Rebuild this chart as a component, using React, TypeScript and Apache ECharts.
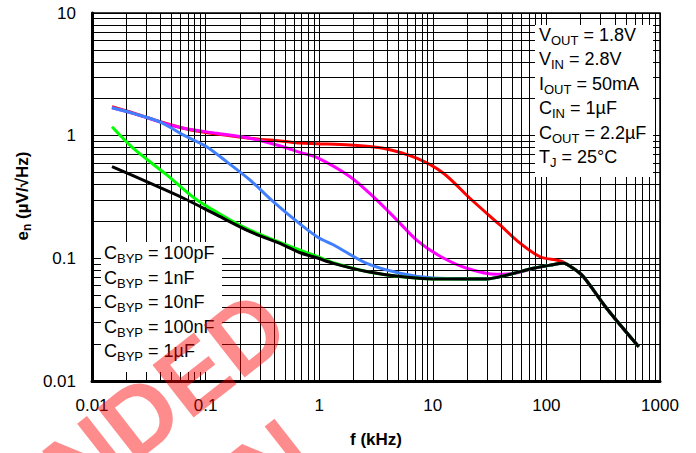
import React, { useEffect, useRef } from "react";
import * as echarts from "echarts";

// Axis tick labels (decades)
const xTickLabels = ["0.01", "0.1", "1", "10", "100", "1000"];
const yTickLabels = ["0.01", "0.1", "1", "10"];

// Minor grid: 2..9 within each decade
const minorSteps = [2, 3, 4, 5, 6, 7, 8, 9];
const xDecades = [0.01, 0.1, 1, 10, 100];
const yDecades = [0.01, 0.1, 1];

// Noise density e_n (µV/√Hz) vs frequency f (kHz), one curve per C_BYP
const byp100pF: [number, number][] = [
  [0.015, 1.72], [0.023, 1.53], [0.04, 1.3], [0.064, 1.15], [0.089, 1.08],
  [0.125, 1.03], [0.246, 0.953], [0.48, 0.9], [0.68, 0.87], [0.95, 0.86],
  [1.87, 0.84], [3.66, 0.79], [7.2, 0.655], [12.4, 0.494], [21.2, 0.309],
  [39, 0.187], [58.6, 0.133], [88, 0.103], [127, 0.096], [145, 0.092],
  [172, 0.083], [211, 0.071], [340, 0.039], [650, 0.019],
];
const byp1nF: [number, number][] = [
  [0.015, 1.69], [0.023, 1.52], [0.04, 1.29], [0.064, 1.15], [0.125, 1.046],
  [0.246, 0.953], [0.48, 0.813], [0.68, 0.73], [0.95, 0.665], [1.87, 0.463],
  [2.99, 0.318], [4.81, 0.206], [7.2, 0.141], [11.6, 0.104], [19.9, 0.083],
  [36.6, 0.074], [54.8, 0.076], [67, 0.08], [108, 0.088], [141, 0.091],
  [172, 0.083], [211, 0.071], [340, 0.039], [650, 0.019],
];
const byp10nF: [number, number][] = [
  [0.015, 1.69], [0.023, 1.52], [0.04, 1.29], [0.064, 1.01], [0.102, 0.813],
  [0.153, 0.614], [0.246, 0.435], [0.394, 0.29], [0.68, 0.19], [0.98, 0.148],
  [1.33, 0.129], [2.62, 0.091], [5.14, 0.0757], [10.1, 0.069], [20, 0.068],
  [29.8, 0.068], [44.8, 0.073], [76.7, 0.083], [108, 0.088], [141, 0.091],
  [172, 0.083], [211, 0.071], [340, 0.039], [650, 0.019],
];
const byp100nF: [number, number][] = [
  [0.015, 1.18], [0.023, 0.79], [0.0455, 0.479], [0.0835, 0.3], [0.175, 0.199],
  [0.246, 0.17], [0.48, 0.132], [0.95, 0.104], [1.33, 0.092], [2.62, 0.078],
  [5.14, 0.071], [10.1, 0.068], [29.8, 0.068], [44.8, 0.073], [76.7, 0.083],
  [108, 0.088], [141, 0.091], [172, 0.083], [211, 0.071], [340, 0.039],
  [650, 0.019],
];
const byp1uF: [number, number][] = [
  [0.015, 0.559], [0.0324, 0.41], [0.064, 0.309], [0.125, 0.226], [0.246, 0.165],
  [0.48, 0.129], [0.68, 0.111], [0.95, 0.101], [1.33, 0.091], [2.62, 0.078],
  [5.14, 0.071], [10.1, 0.068], [29.8, 0.068], [44.8, 0.073], [76.7, 0.083],
  [108, 0.088], [141, 0.091], [172, 0.083], [211, 0.071], [340, 0.039],
  [650, 0.019],
];

const curveNames = ["100pF", "1nF", "10nF", "100nF", "1µF"];
const curveData = [byp100pF, byp1nF, byp10nF, byp100nF, byp1uF];
const curveColors = ["#ff0000", "#ff00ff", "#4080ff", "#00ff00", "#000000"];

// Test conditions: [symbol, subscript, rest]
const conditions: [string, string, string][] = [
  ["V", "OUT", " = 1.8V"],
  ["V", "IN", " = 2.8V"],
  ["I", "OUT", " = 50mA"],
  ["C", "IN", " = 1µF"],
  ["C", "OUT", " = 2.2µF"],
  ["T", "J", " = 25°C"],
];

const watermarkLines = ["NOT RECOMMENDED", "FOR NEW DESIGN"];

const FONT = "Arial, 'Liberation Sans', Helvetica, sans-serif";

const richStyles = (size: number, subSize: number, weight: string, lh: number) => ({
  m: { fontSize: size, fontFamily: FONT, fontWeight: weight, fill: "#000", lineHeight: lh },
  s: { fontSize: subSize, fontFamily: FONT, fontWeight: weight, fill: "#000", verticalAlign: "bottom", lineHeight: subSize + 3 },
});

export default function App() {
  const ref = useRef<HTMLDivElement>(null);

  useEffect(() => {
    if (!ref.current) return;
    const chart = echarts.init(ref.current, undefined, { renderer: "svg" });

    const minorLines = [
      ...xDecades.flatMap((d) => minorSteps.map((m) => ({ xAxis: d * m }))),
      ...yDecades.flatMap((d) => minorSteps.map((m) => ({ yAxis: d * m }))),
    ];

    const wmRotation = (38 * Math.PI) / 180;
    const wmAnchors = [
      [274, 312],
      [300, 441],
    ];

    const graphic: any[] = [
      // white panel behind the conditions block
      { type: "rect", shape: { x: 535, y: 25, width: 118, height: 152 }, style: { fill: "#fff" }, z: 10, silent: true },
      // white panel behind the C_BYP list
      { type: "rect", shape: { x: 101, y: 242, width: 121, height: 130 }, style: { fill: "#fff" }, z: 10, silent: true },
      ...conditions.map((c, i) => ({
        type: "text",
        x: 539,
        y: 35 + i * 24.4,
        z: 11,
        silent: true,
        style: {
          text: `{m|${c[0]}}{s|${c[1]}}{m|${c[2]}}`,
          rich: richStyles(18, 13, "normal", 24),
          verticalAlign: "middle",
          align: "left",
        },
      })),
      ...curveNames.map((n, i) => ({
        type: "text",
        x: 104,
        y: 253 + i * 24.6,
        z: 11,
        silent: true,
        style: {
          text: `{m|C}{s|BYP}{m| = ${n}}`,
          rich: richStyles(18, 13, "normal", 24),
          verticalAlign: "middle",
          align: "left",
        },
      })),
      // axis titles
      {
        type: "text",
        x: 376,
        y: 439,
        z: 11,
        silent: true,
        style: { text: "f (kHz)", font: `bold 17px ${FONT}`, fill: "#000", align: "center", verticalAlign: "middle" },
      },
      {
        type: "text",
        x: 22,
        y: 196,
        rotation: Math.PI / 2,
        z: 11,
        silent: true,
        style: {
          text: "{m|e}{s|n}{m| (µV/√Hz)}",
          rich: richStyles(17, 12, "bold", 22),
          align: "center",
          verticalAlign: "middle",
        },
      },
      // watermark, two slanted lines
      ...watermarkLines.map((t, i) => ({
        type: "text",
        x: wmAnchors[i][0],
        y: wmAnchors[i][1],
        rotation: wmRotation,
        z: 100,
        silent: true,
        style: { text: t, font: `bold 97px ${FONT}`, fill: "rgba(255,0,0,0.45)", align: "right", verticalAlign: "middle" },
      })),
    ];

    const option: any = {
      animation: false,
      backgroundColor: "#fff",
      grid: { left: 92, right: 36, top: 13, bottom: 72, show: true, borderColor: "#000", borderWidth: 1.5, backgroundColor: "transparent" },
      xAxis: {
        type: "log",
        logBase: 10,
        min: 0.01,
        max: 1000,
        axisLine: { show: true, onZero: false, lineStyle: { color: "#000", width: 3 } },
        axisTick: { show: false },
        splitLine: { show: true, lineStyle: { color: "#000", width: 1 } },
        axisLabel: {
          color: "#000",
          fontSize: 17,
          fontFamily: FONT,
          margin: 16,
          formatter: (v: number) => xTickLabels[Math.round(Math.log10(v)) + 2],
        },
      },
      yAxis: {
        type: "log",
        logBase: 10,
        min: 0.01,
        max: 10,
        axisLine: { show: true, onZero: false, lineStyle: { color: "#000", width: 3 } },
        axisTick: { show: false },
        splitLine: { show: true, lineStyle: { color: "#000", width: 1 } },
        axisLabel: {
          color: "#000",
          fontSize: 17,
          fontFamily: FONT,
          margin: 16,
          formatter: (v: number) => yTickLabels[Math.round(Math.log10(v)) + 2],
        },
      },
      series: [
        {
          type: "line",
          name: "grid",
          data: [],
          z: 1,
          silent: true,
          markLine: {
            silent: true,
            symbol: ["none", "none"],
            label: { show: false },
            lineStyle: { color: "#000", width: 1, type: "solid" },
            emphasis: { disabled: true },
            animation: false,
            data: minorLines,
          },
        },
        ...curveData.map((d, i) => ({
          type: "line",
          name: curveNames[i],
          data: d,
          symbol: "none",
          showSymbol: false,
          smooth: 0.3,
          z: 3 + i,
          silent: true,
          lineStyle: { color: curveColors[i], width: 3 },
        })),
      ],
      graphic,
    };

    chart.setOption(option);
    return () => chart.dispose();
  }, []);

  return <div ref={ref} style={{ position: "fixed", left: 0, top: 0, width: 696, height: 453, background: "#fff" }} />;
}
